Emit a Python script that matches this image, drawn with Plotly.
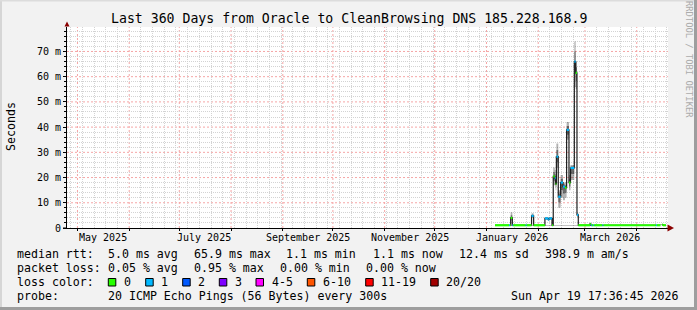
import plotly.graph_objects as go
import pandas as pd

# ---------------- data ----------------
t_start = "2025-04-24 17:36:45"
t_end = "2026-04-19 17:36:45"

step_start = [
    "2026-01-06 02:30", "2026-01-14 12:00", "2026-01-15 00:00", "2026-01-15 12:00",
    "2026-01-16 12:00", "2026-01-17 00:00", "2026-01-24 12:00", "2026-01-25 00:00",
    "2026-01-28 00:00", "2026-01-29 06:00", "2026-02-05 00:00", "2026-02-07 00:00",
    "2026-02-07 12:00", "2026-02-09 06:00", "2026-02-10 00:00", "2026-02-10 22:00",
    "2026-02-11 10:00", "2026-02-11 21:00", "2026-02-13 00:00", "2026-02-14 10:00",
    "2026-02-15 20:00", "2026-02-17 00:00", "2026-02-18 00:00", "2026-02-19 10:00",
    "2026-02-20 08:00", "2026-02-22 15:00", "2026-02-23 10:00", "2026-02-24 05:00",
    "2026-02-25 00:00", "2026-03-04 00:00", "2026-03-04 12:00", "2026-03-05 00:00",
    "2026-03-06 00:00", "2026-03-06 12:00", "2026-03-11 12:00", "2026-03-12 00:00",
    "2026-04-12 12:00", "2026-04-13 00:00", "2026-04-15 06:00", "2026-04-16 06:00",
    "2026-04-16 18:00",
]
data_end = "2026-04-18 12:00"

median_ms = [
    1.1, 1.1, 1.1, 4.0,
    1.1, 1.1, 1.1, 1.1,
    4.8, 1.1, 3.8, 3.3,
    3.8, 1.1, 20.5, 19.8,
    17.5, 28.3, 12.4, 18.0,
    16.4, 16.0, 38.9, 18.0,
    23.8, 66.0, 61.5, 5.2,
    1.1, 1.6, 1.1, 1.1,
    1.1, 1.1, 1.1, 1.1,
    1.1, 1.1, None, 1.3,
    1.1,
]
loss_pings = [
    0, 1, 0, 0,
    1, 0, 1, 0,
    1, 0, 1, 1,
    1, 0, 0, 1,
    0, 1, 1, 1,
    1, 0, 1, 0,
    1, 1, 0, 1,
    0, 0, 1, 0,
    1, 0, 1, 0,
    1, 0, None, 0,
    0,
]
smoke_lo_ms = [
    1.0, 1.0, 1.0, 3.0,
    1.0, 1.0, 1.0, 1.0,
    4.0, 1.0, 3.2, 2.9,
    3.2, 1.0, 17.0, 17.0,
    15.0, 24.0, 8.0, 12.0,
    11.0, 12.0, 35.0, 15.0,
    19.0, 56.0, 55.0, 4.5,
    1.0, 1.2, 1.0, 1.0,
    1.0, 1.0, 1.0, 1.0,
    1.0, 1.0, None, 1.1,
    1.0,
]
smoke_hi_ms = [
    1.3, 1.3, 1.3, 6.2,
    1.3, 1.3, 1.3, 1.3,
    5.8, 1.3, 4.3, 3.8,
    4.3, 1.3, 24.0, 23.0,
    20.0, 33.5, 15.0, 21.0,
    18.0, 18.0, 42.0, 21.0,
    25.0, 74.0, 66.0, 6.0,
    1.3, 2.0, 1.3, 1.3,
    1.3, 1.3, 1.3, 1.3,
    1.3, 1.3, None, 1.5,
    1.3,
]

loss_classes = ["0", "1", "2", "3", "4-5", "6-10", "11-19", "20/20"]
loss_upper = [0, 1, 2, 3, 5, 10, 19, 20]
loss_colors = ["#26ff00", "#00b8ff", "#0059ff", "#7e00ff", "#ff00ff", "#ff5500", "#ff0000", "#a10000"]

y_major = [0, 10, 20, 30, 40, 50, 60, 70]
y_major_text = ["0", "10 m", "20 m", "30 m", "40 m", "50 m", "60 m", "70 m"]
y_minor = [v for v in range(2, 80, 2) if v % 10]
y_top = 79.7

month_label_pos = ["2025-05-16", "2025-07-16", "2025-09-16", "2025-11-16", "2026-01-16", "2026-03-16"]
month_labels = ["May 2025", "July 2025", "September 2025", "November 2025", "January 2026", "March 2026"]
month_starts = [d.strftime("%Y-%m-%d") for d in pd.date_range("2025-05-01", "2026-04-01", freq="MS")]
week_starts = [d.strftime("%Y-%m-%d") for d in pd.date_range("2025-04-27", "2026-04-19", freq="7D")
               if d.day != 1]

title_text = "Last 360 Days from Oracle to CleanBrowsing DNS 185.228.168.9"
row_rtt = [(16, "median rtt:"), (107, "5.0 ms avg"), (193, "65.9 ms max"), (285, "1.1 ms min"),
           (372, "1.1 ms now"), (458, "12.4 ms sd"), (544, "398.9 m am/s")]
row_loss = [(16, "packet loss:"), (107, "0.05 % avg"), (193, "0.95 % max"), (279, "0.00 % min"),
            (365, "0.00 % now")]
loss_box_x = [108.3, 145.7, 182.7, 219.3, 256, 307.3, 365.7, 430.7]
probe_text = "20 ICMP Echo Pings (56 Bytes) every 300s"
stamp_text = "Sun Apr 19 17:36:45 2026"

# ---------------- layout geometry ----------------
W, H = 697, 310
L, R, T, B = 67, 668, 27, 228
MONO = "DejaVu Sans Mono"
MGRID = "#F5A5A5"
GRID = "#D3D3D3"


def px(xp):
    return (xp - L) / (R - L)


def py(yp):
    return (B - yp) / (B - T)


xs = step_start + [data_end]


def ext(v):
    return v + [v[-1]]


fig = go.Figure()

# smoke (outer, inner)
inner_lo = [None if m is None else m - (m - lo) * 0.5 for m, lo in zip(median_ms, smoke_lo_ms)]
inner_hi = [None if m is None else m + (hi - m) * 0.5 for m, hi in zip(median_ms, smoke_hi_ms)]
for lo, hi, col in [(smoke_lo_ms, smoke_hi_ms, "rgba(0,0,0,0.30)"), (inner_lo, inner_hi, "rgba(0,0,0,0.40)")]:
    fig.add_trace(go.Scatter(x=xs, y=ext(lo), mode="lines", line=dict(width=0, shape="hv"),
                             showlegend=False, hoverinfo="skip"))
    fig.add_trace(go.Scatter(x=xs, y=ext(hi), mode="lines", line=dict(width=0, shape="hv"),
                             fill="tonexty", fillcolor=col, showlegend=False, hoverinfo="skip"))

# median line
fig.add_trace(go.Scatter(x=xs, y=ext(median_ms), mode="lines",
                         line=dict(color="#202020", width=1.2, shape="hv"),
                         showlegend=False, hoverinfo="skip"))

# loss-coloured band
for ci, (name, col) in enumerate(zip(loss_classes, loss_colors)):
    lo_b = -1 if ci == 0 else loss_upper[ci - 1]
    hi_b = loss_upper[ci]
    sx, sy = [], []
    for i, (m, lp) in enumerate(zip(median_ms, loss_pings)):
        if m is None or lp is None:
            continue
        if lo_b < lp <= hi_b:
            sx += [xs[i], xs[i + 1], None]
            sy += [m, m, None]
    if sx:
        fig.add_trace(go.Scatter(x=sx, y=sy, mode="lines", line=dict(color=col, width=2.2),
                                 showlegend=False, hoverinfo="skip", connectgaps=False))

annotations = []


def text(xp, yp, s, size=11.6, anchor="left", color="#000000", angle=0, yanchor="middle"):
    annotations.append(dict(x=px(xp), y=py(yp), xref="paper", yref="paper", text=s, showarrow=False,
                            xanchor=anchor, yanchor=yanchor, textangle=angle, borderpad=0,
                            font=dict(family=MONO, size=size, color=color)))


# month labels on the date scale
for pos, lab in zip(month_label_pos, month_labels):
    annotations.append(dict(x=pos, y=py(237.5), xref="x", yref="paper", text=lab, showarrow=False,
                            xanchor="center", yanchor="middle", borderpad=0,
                            font=dict(family=MONO, size=10, color="#000000")))

text(348.5, 19, title_text, size=13.2, anchor="center")
text(11, 127, "Seconds", size=11.6, anchor="center", angle=-90)
text(689, 59, "RRDTOOL / TOBI OETIKER", size=8.8, anchor="center", color="#ABABAB", angle=90)
for xp, s in row_rtt:
    text(xp, 254.3, s)
for xp, s in row_loss:
    text(xp, 268.3, s)
text(16, 282.3, "loss color:")
text(16, 296.3, "probe:")
text(107, 296.3, probe_text)
text(680, 296.3, stamp_text, anchor="right")

shapes = []
# major grid (red dotted), drawn beneath the data on the axis scales
for ms in month_starts:
    shapes.append(dict(type="line", xref="x", yref="paper", x0=ms, x1=ms, y0=0, y1=1, layer="below",
                       line=dict(color=MGRID, width=1, dash="2px,2px")))
for yv in y_major[1:]:
    shapes.append(dict(type="line", xref="paper", yref="y", x0=0, x1=1, y0=yv, y1=yv, layer="below",
                       line=dict(color=MGRID, width=1, dash="2px,2px")))

for bx, name, col in zip(loss_box_x, loss_classes, loss_colors):
    shapes.append(dict(type="rect", xref="paper", yref="paper", x0=px(bx), x1=px(bx + 7.5),
                       y0=py(278.5), y1=py(286), fillcolor=col, line=dict(color="#000000", width=1)))
    text(bx + 14.7, 282.3, name)

# arrows
shapes.append(dict(type="path", xref="paper", yref="paper",
                   path=f"M {px(667.5)},{py(224.5)} L {px(674)},{py(228)} L {px(667.5)},{py(231.5)} Z",
                   fillcolor="#8b0000", line=dict(width=0)))
shapes.append(dict(type="path", xref="paper", yref="paper",
                   path=f"M {px(64.5)},{py(26.5)} L {px(67)},{py(21.5)} L {px(69.5)},{py(26.5)} Z",
                   fillcolor="#8b0000", line=dict(width=0)))
# axis extension left of origin
shapes.append(dict(type="line", xref="paper", yref="paper", x0=px(63), x1=px(67), y0=py(228), y1=py(228),
                   line=dict(color="#000000", width=1)))
# frame
shapes.append(dict(type="rect", xref="paper", yref="paper", x0=px(694), x1=px(698), y0=py(-1), y1=py(311),
                   fillcolor="#9e9e9e", line=dict(width=0)))
shapes.append(dict(type="rect", xref="paper", yref="paper", x0=px(-1), x1=px(698), y0=py(307), y1=py(311),
                   fillcolor="#9e9e9e", line=dict(width=0)))
shapes.append(dict(type="rect", xref="paper", yref="paper", x0=px(-1), x1=px(2), y0=py(-1), y1=py(307),
                   fillcolor="#d6d6d6", line=dict(width=0)))
shapes.append(dict(type="rect", xref="paper", yref="paper", x0=px(-1), x1=px(694), y0=py(-1), y1=py(1.5),
                   fillcolor="#dcdcdc", line=dict(width=0)))

fig.update_layout(
    width=W, height=H, autosize=False,
    margin=dict(l=L, r=W - R, t=T, b=H - B, pad=0),
    paper_bgcolor="#F2F2F2", plot_bgcolor="#FFFFFF",
    showlegend=False,
    annotations=annotations, shapes=shapes,
    xaxis=dict(type="date", range=[t_start, t_end], tickmode="array", tickvals=month_starts,
               ticktext=[""] * len(month_starts), showgrid=False,
               ticks="outside", ticklen=2, tickcolor="#000000", showline=True,
               linecolor="#000000", linewidth=1, zeroline=False, fixedrange=True,
               minor=dict(tickmode="array", tickvals=week_starts, showgrid=True, gridcolor=GRID,
                          griddash="1px,1px", gridwidth=1, ticks="")),
    yaxis=dict(range=[0, y_top], tickmode="array", tickvals=y_major, ticktext=y_major_text,
               showgrid=False,
               ticks="outside", ticklen=3, tickcolor="#000000", showline=True, linecolor="#000000",
               linewidth=1, zeroline=False,
               tickfont=dict(family=MONO, size=10, color="#000000"),
               minor=dict(tickmode="array", tickvals=y_minor, showgrid=True, gridcolor=GRID,
                          griddash="1px,1px", gridwidth=1, ticks="outside", ticklen=2,
                          tickcolor="#000000")),
)

fig.write_html("out.html")
